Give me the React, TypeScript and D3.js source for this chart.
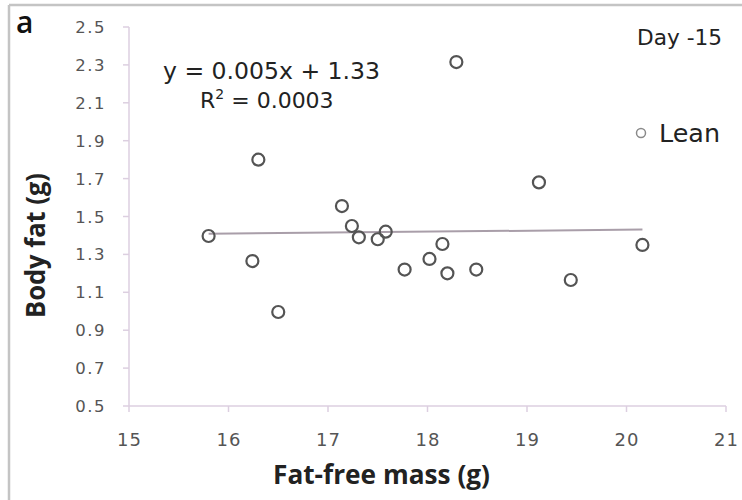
import React from "react";
import * as d3 from "d3";

// fat-free mass (g) vs body fat (g), lean group, day -15
const fatFree = [15.8, 16.24, 16.3, 16.5, 17.14, 17.24, 17.31, 17.5, 17.58, 17.77, 18.02, 18.15, 18.2, 18.49, 18.29, 19.12, 19.44, 20.16];
const bodyFat = [1.397, 1.265, 1.8, 0.996, 1.555, 1.45, 1.39, 1.38, 1.42, 1.22, 1.276, 1.355, 1.2, 1.22, 2.315, 1.68, 1.165, 1.35];
const xTicks = [15, 16, 17, 18, 19, 20, 21];
const yTicks = [0.5, 0.7, 0.9, 1.1, 1.3, 1.5, 1.7, 1.9, 2.1, 2.3, 2.5];
const slope = 0.005;
const intercept = 1.33;

const font = "'Open Sans', Lato, sans-serif";
const wideFont = "'DejaVu Sans', sans-serif";

const App = () => {
  const width = 742;
  const height = 500;
  const x = d3.scaleLinear().domain([15, 21]).range([129, 726]);
  const y = d3.scaleLinear().domain([0.5, 2.5]).range([406, 27]);
  const axisColor = "#dccfe0";

  const x0 = d3.min(fatFree)!;
  const x1 = d3.max(fatFree)!;

  return (
    <svg width={width} height={height} style={{ position: "absolute", left: 0, top: 0, background: "#fff" }}>
      <rect width={width} height={height} fill="#fff" />
      {/* frame */}
      <line x1={9} y1={5} x2={742} y2={5} stroke="#c4c4c4" strokeWidth={2.5} />
      <line x1={9} y1={5} x2={9} y2={500} stroke="#c4c4c4" strokeWidth={2.5} />

      {/* axes */}
      <line x1={x(15)} y1={y(2.5)} x2={x(15)} y2={y(0.5)} stroke={axisColor} strokeWidth={1.5} />
      <line x1={x(15)} y1={y(0.5)} x2={x(21)} y2={y(0.5)} stroke={axisColor} strokeWidth={1.5} />
      {yTicks.map((t) => (
        <g key={"y" + t}>
          <line x1={x(15) - 6} x2={x(15)} y1={y(t)} y2={y(t)} stroke={axisColor} strokeWidth={1.5} />
          <text x={106} y={y(t) + 6} textAnchor="end" fontSize={16.5} letterSpacing={1.5} fill="#555" fontFamily={wideFont}>
            {t.toFixed(1)}
          </text>
        </g>
      ))}
      {xTicks.map((t) => (
        <g key={"x" + t}>
          <line x1={x(t)} x2={x(t)} y1={y(0.5)} y2={y(0.5) + 6} stroke={axisColor} strokeWidth={1.5} />
          <text x={x(t) + 0.5} y={446} textAnchor="middle" fontSize={18} letterSpacing={1} fill="#555" fontFamily={wideFont}>
            {t}
          </text>
        </g>
      ))}

      {/* trendline */}
      <line
        x1={x(x0)}
        y1={y(slope * x0 + intercept)}
        x2={x(x1)}
        y2={y(slope * x1 + intercept)}
        stroke="#a99ea9"
        strokeWidth={2}
      />

      {/* points */}
      {fatFree.map((v, i) => (
        <circle key={i} cx={x(v)} cy={y(bodyFat[i])} r={6} fill="none" stroke="#545454" strokeWidth={2.2} />
      ))}

      {/* texts */}
      <text x={16} y={33} fontSize={30} fontWeight={600} fontFamily={font} fill="#111">a</text>
      <text x={163} y={79} fontSize={23} fontFamily={wideFont} fill="#222" textLength={217} lengthAdjust="spacingAndGlyphs">
        y = 0.005x + 1.33
      </text>
      <text x={200} y={108} fontSize={22} fontFamily={wideFont} fill="#222">
        R<tspan dy={-9} fontSize={14}>2</tspan><tspan dy={9}> = 0.0003</tspan>
      </text>
      <text x={637} y={45} fontSize={22} fontFamily={wideFont} fill="#222" textLength={85} lengthAdjust="spacingAndGlyphs">Day -15</text>
      <circle cx={641} cy={133} r={4.5} fill="none" stroke="#8a8a8a" strokeWidth={1.5} />
      <text x={659} y={142} fontSize={24} fontFamily={wideFont} fill="#222" textLength={61} lengthAdjust="spacingAndGlyphs">Lean</text>

      <text x={273} y={484} fontSize={26} fontWeight="bold" fontFamily={font} fill="#222" textLength={217} lengthAdjust="spacingAndGlyphs">
        Fat-free mass (g)
      </text>
      <text
        transform={`translate(45, 318) rotate(-90)`}
        fontSize={26}
        fontWeight="bold"
        fontFamily={font}
        fill="#222"
        textLength={145}
        lengthAdjust="spacingAndGlyphs"
      >
        Body fat (g)
      </text>
    </svg>
  );
};

export default App;
